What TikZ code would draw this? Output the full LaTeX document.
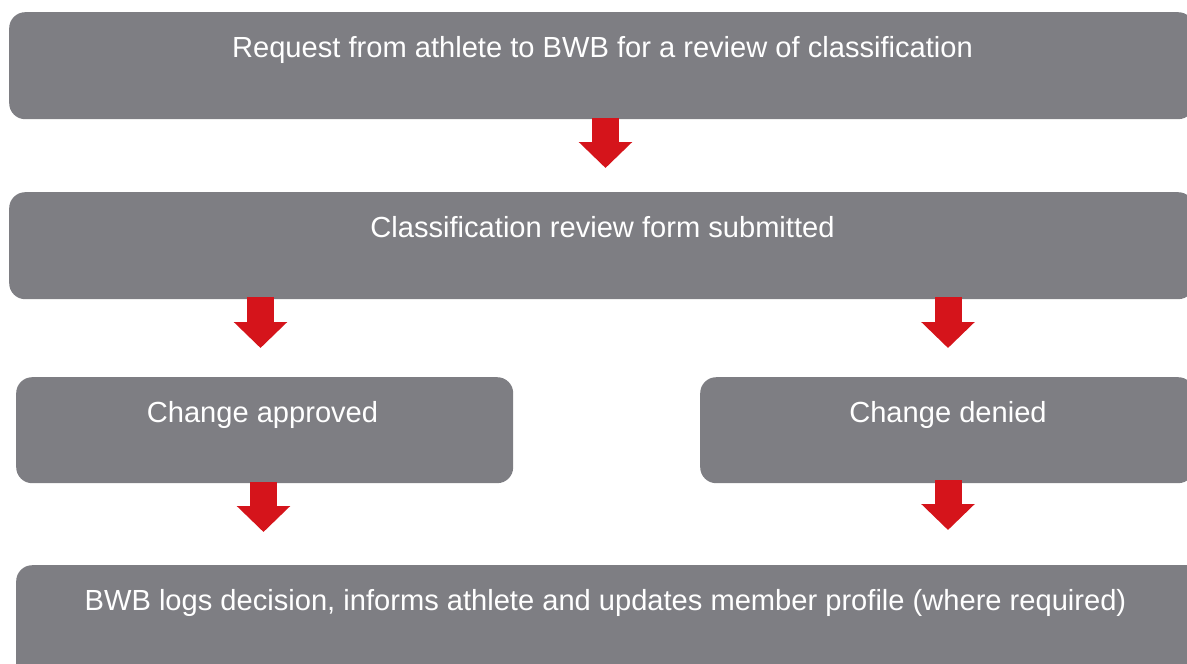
\documentclass[tikz,border=0pt]{standalone}
\usepackage{fontspec}
\setmainfont{Liberation Sans}
\usetikzlibrary{arrows.meta,calc}
\definecolor{boxgrey}{RGB}{126,126,131}
\definecolor{arrowred}{RGB}{213,20,27}
\tikzset{
  stepbox/.style={fill=boxgrey, draw=none, rounded corners=16pt, anchor=north west, inner sep=0pt},
  steptext/.style={text=white, font=\fontsize{29.1}{34}\selectfont, anchor=base, inner sep=0pt},
  redarrow/.style={draw=arrowred, fill=arrowred, line width=27pt, -{Triangle[width=52pt,length=26pt]}},
}
\begin{document}
\begin{tikzpicture}[x=1pt,y=-1pt]
\useasboundingbox (0,0) rectangle (1187,664);
\clip (0,0) rectangle (1187,664);
\node[stepbox, minimum width=1185pt, minimum height=107pt] (b1) at (9,12) {};
\node[stepbox, minimum width=1185pt, minimum height=107pt] (b2) at (9,192) {};
\node[stepbox, minimum width=497pt, minimum height=106pt] (b3) at (16,377) {};
\node[stepbox, minimum width=494pt, minimum height=106pt] (b4) at (700,377) {};
\node[stepbox, minimum width=1200pt, minimum height=120pt] (b5) at (16,565) {};
\node[steptext] (t1) at (602.5,57) {Request from athlete to BWB for a review of classification};
\node[steptext] (t2) at (602.5,237) {Classification review form submitted};
\node[steptext] (t3) at (262.5,422) {Change approved};
\node[steptext] (t4) at (948,422) {Change denied};
\node[steptext] (t5) at (605.5,610) {BWB logs decision, informs athlete and updates member profile (where required)};
\draw[redarrow, shorten >=24pt] ($(t1 |- b1.south)+(3,-1)$) -- ($(t1 |- b2.north)+(3,0)$);
\draw[redarrow, shorten >=29pt] ($(t3 |- b2.south)+(-2,-2)$) -- ($(t3 |- b3.north)+(-2,0)$);
\draw[redarrow, shorten >=29pt] ($(t4 |- b2.south)+(0,-2)$) -- (t4 |- b4.north);
\draw[redarrow, shorten >=33pt] ($(t3 |- b3.south)+(1,-1)$) -- ($(t3 |- b5.north)+(1,0)$);
\draw[redarrow, shorten >=35pt] ($(t4 |- b4.south)+(0,-3)$) -- (t4 |- b5.north);
\end{tikzpicture}
\end{document}
